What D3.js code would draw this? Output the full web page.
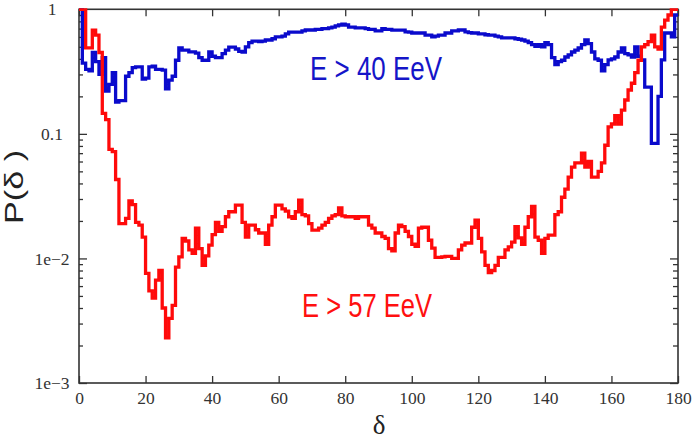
<!DOCTYPE html>
<html>
<head>
<meta charset="utf-8">
<script src="https://cdn.jsdelivr.net/npm/d3@7"></script>
<style>
  body { margin: 0; background: #fff; }
  svg { display: block; }
  .tick text, .serif { font-family: "Liberation Serif", "Times New Roman", "DejaVu Serif", serif; }
  .sans { font-family: "Liberation Sans", Arial, sans-serif; }
</style>
</head>
<body>
<svg id="drawing_region"></svg>
<script>
// bin starts (degrees), 1 degree bins
const delta = d3.range(0, 180, 1);

// P(delta) for E > 57 EeV (red)
const pHigh = [
  1.0, 1.0, 0.49, 0.49, 0.68, 0.62, 0.45, 0.146, 0.13, 0.075,
  0.072, 0.043, 0.019, 0.019, 0.021, 0.029, 0.027, 0.0195, 0.0185, 0.0148,
  0.0076, 0.0055, 0.0048, 0.0067, 0.008, 0.004, 0.0023, 0.0033, 0.0042, 0.0085,
  0.0103, 0.0145, 0.0138, 0.0117, 0.011, 0.0175, 0.012, 0.0088, 0.0105, 0.0128,
  0.0155, 0.0195, 0.0165, 0.018, 0.0216, 0.0237, 0.0237, 0.0268, 0.0268, 0.0195,
  0.0148, 0.0185, 0.0185, 0.017, 0.016, 0.016, 0.013, 0.0185, 0.0216, 0.0268,
  0.0268, 0.025, 0.024, 0.0216, 0.021, 0.0237, 0.0294, 0.0225, 0.022, 0.019,
  0.0169, 0.0169, 0.0175, 0.0185, 0.0195, 0.021, 0.022, 0.0225, 0.0255, 0.022,
  0.0216, 0.0216, 0.0216, 0.021, 0.0216, 0.0216, 0.0216, 0.0185, 0.0175, 0.016,
  0.016, 0.015, 0.0145, 0.012, 0.0115, 0.016, 0.0185, 0.018, 0.0165, 0.015,
  0.013, 0.0125, 0.0175, 0.0178, 0.0178, 0.014, 0.0121, 0.0102, 0.0102, 0.0103,
  0.0104, 0.0104, 0.0100, 0.0100, 0.0117, 0.0128, 0.0133, 0.0133, 0.0178, 0.0203,
  0.0145, 0.0113, 0.0088, 0.0077, 0.008, 0.0088, 0.0102, 0.0102, 0.0117, 0.0124,
  0.0135, 0.018, 0.0146, 0.013, 0.0178, 0.0216, 0.0262, 0.0148, 0.014, 0.011,
  0.0145, 0.0154, 0.0154, 0.0225, 0.0237, 0.031, 0.036, 0.045, 0.054, 0.0585,
  0.0585, 0.07, 0.054, 0.06, 0.045, 0.045, 0.05, 0.0585, 0.081, 0.114,
  0.12, 0.14, 0.12, 0.155, 0.187, 0.225, 0.255, 0.31, 0.39, 0.5,
  0.52, 0.55, 0.62, 0.5, 0.48, 0.72, 0.82, 0.9, 1.0, 1.0
];

// P(delta) for E > 40 EeV (blue)
const pLow = [
  1.0, 0.37, 0.33, 0.32, 0.45, 0.38, 0.30, 0.41, 0.22, 0.25,
  0.31, 0.18, 0.185, 0.185, 0.29, 0.31, 0.34, 0.345, 0.345, 0.275,
  0.28, 0.345, 0.35, 0.33, 0.33, 0.325, 0.23, 0.27, 0.29, 0.39,
  0.49, 0.47, 0.47, 0.455, 0.455, 0.445, 0.41, 0.39, 0.39, 0.455,
  0.42, 0.41, 0.41, 0.44, 0.47, 0.497, 0.497, 0.48, 0.46, 0.454,
  0.50, 0.54, 0.556, 0.556, 0.55, 0.556, 0.567, 0.567, 0.58, 0.60,
  0.60, 0.61, 0.635, 0.657, 0.657, 0.657, 0.657, 0.67, 0.682, 0.682,
  0.682, 0.69, 0.69, 0.70, 0.70, 0.71, 0.72, 0.735, 0.748, 0.76,
  0.748, 0.72, 0.72, 0.71, 0.71, 0.71, 0.70, 0.69, 0.69, 0.67,
  0.67, 0.70, 0.69, 0.69, 0.68, 0.68, 0.68, 0.68, 0.66, 0.657,
  0.645, 0.645, 0.645, 0.645, 0.62, 0.62, 0.60, 0.61, 0.62, 0.62,
  0.645, 0.645, 0.67, 0.67, 0.682, 0.682, 0.66, 0.65, 0.645, 0.645,
  0.635, 0.635, 0.625, 0.62, 0.62, 0.61, 0.60, 0.59, 0.59, 0.59,
  0.59, 0.58, 0.575, 0.567, 0.555, 0.54, 0.52, 0.505, 0.52, 0.50,
  0.54, 0.52, 0.41, 0.36, 0.38, 0.39, 0.414, 0.43, 0.454, 0.47,
  0.489, 0.52, 0.567, 0.53, 0.454, 0.40, 0.39, 0.32, 0.36, 0.392,
  0.40, 0.414, 0.454, 0.49, 0.44, 0.43, 0.414, 0.50, 0.42, 0.392,
  0.237, 0.237, 0.084, 0.084, 0.2, 0.392, 0.645, 0.645, 0.60, 0.9
];

const xTicks = [0, 20, 40, 60, 80, 100, 120, 140, 160, 180];
const yMajor = [1, 0.1, 0.01, 0.001];
const yMajorLabels = ["1", "0.1", "1e\u22122", "1e\u22123"];

let config = {
  parent: '#drawing_region',
  width: 698,
  height: 442,
  margin: {top: 9.3, right: 20, bottom: 59, left: 79},
};

class LogStepChart {

  constructor( config ) {
    this.config = config;
    this.init();
  }

  init() {
    let self = this;

    self.svg = d3.select( self.config.parent )
      .attr('width', self.config.width)
      .attr('height', self.config.height);

    self.chart = self.svg.append('g')
      .attr('transform', `translate(${self.config.margin.left}, ${self.config.margin.top})`);

    self.inner_width = self.config.width - self.config.margin.left - self.config.margin.right;
    self.inner_height = self.config.height - self.config.margin.top - self.config.margin.bottom;

    self.x_scale = d3.scaleLinear()
      .domain([0, 180])
      .range([0, self.inner_width]);

    self.y_scale = d3.scaleLog()
      .domain([0.001, 1])
      .range([self.inner_height, 0]);
  }

  render() {
    let self = this;
    const W = self.inner_width, H = self.inner_height;
    const axisColor = '#333';

    // minor ticks 2..9 per decade
    const yMinor = [];
    [0.001, 0.01, 0.1].forEach(b => { for (let k = 2; k <= 9; k++) yMinor.push(b * k); });

    const styleAxis = g => {
      g.attr('font-size', 17.5);
      g.select('.domain').remove();
      g.selectAll('line').attr('stroke', axisColor).attr('stroke-width', 1.3);
      g.selectAll('text').attr('fill', '#333');
    };

    // bottom
    self.chart.append('g')
      .attr('transform', `translate(0, ${H})`)
      .call(d3.axisBottom(self.x_scale).tickValues(xTicks).tickSizeInner(-7).tickSizeOuter(0).tickPadding(9).tickFormat(d3.format('d')))
      .call(styleAxis);

    // top
    self.chart.append('g')
      .call(d3.axisTop(self.x_scale).tickValues(xTicks).tickSizeInner(-7).tickSizeOuter(0).tickFormat(''))
      .call(styleAxis);

    // left major + minor
    self.chart.append('g')
      .call(d3.axisLeft(self.y_scale).tickValues(yMajor).tickSizeInner(-8).tickSizeOuter(0).tickPadding(27)
        .tickFormat((d, i) => yMajorLabels[i]))
      .call(styleAxis)
      .call(g => g.selectAll('text').attr('text-anchor', 'middle'));

    self.chart.append('g')
      .call(d3.axisLeft(self.y_scale).tickValues(yMinor).tickSizeInner(-4).tickSizeOuter(0).tickFormat(''))
      .call(styleAxis);

    // right major + minor
    self.chart.append('g')
      .attr('transform', `translate(${W}, 0)`)
      .call(d3.axisRight(self.y_scale).tickValues(yMajor).tickSizeInner(-8).tickSizeOuter(0).tickFormat(''))
      .call(styleAxis);

    self.chart.append('g')
      .attr('transform', `translate(${W}, 0)`)
      .call(d3.axisRight(self.y_scale).tickValues(yMinor).tickSizeInner(-5).tickSizeOuter(0).tickFormat(''))
      .call(styleAxis);

    // frame
    self.chart.append('rect')
      .attr('x', 0).attr('y', 0)
      .attr('width', W).attr('height', H)
      .attr('fill', 'none')
      .attr('stroke', axisColor)
      .attr('stroke-width', 1.6);

    // step curves
    const line = d3.line()
      .x(d => self.x_scale(d[0]))
      .y(d => self.y_scale(d[1]))
      .curve(d3.curveStepAfter);

    const series = [
      {values: pLow, color: '#0a0acc'},
      {values: pHigh, color: '#ff0a0a'},
    ];

    self.chart.append('clipPath').attr('id', 'plotclip')
      .append('rect').attr('x', 0).attr('y', -1).attr('width', W + 1).attr('height', H + 2);

    series.forEach(s => {
      const pts = delta.map((d, i) => [d, s.values[i]]);
      pts.push([180, s.values[s.values.length - 1]]);
      self.chart.append('path')
        .datum(pts)
        .attr('clip-path', 'url(#plotclip)')
        .attr('fill', 'none')
        .attr('stroke', s.color)
        .attr('stroke-width', 3.3)
        .attr('stroke-linejoin', 'miter')
        .attr('d', line);
    });

    // series labels
    self.svg.append('text')
      .attr('class', 'sans')
      .attr('x', 310).attr('y', 80)
      .attr('fill', '#1515c8')
      .attr('textLength', 132).attr('lengthAdjust', 'spacingAndGlyphs')
      .style('font-size', '34px')
      .text('E > 40 EeV');

    self.svg.append('text')
      .attr('class', 'sans')
      .attr('x', 302).attr('y', 317)
      .attr('fill', '#ff1010')
      .attr('textLength', 130).attr('lengthAdjust', 'spacingAndGlyphs')
      .style('font-size', '33px')
      .text('E > 57 EeV');

    // axis titles
    self.svg.append('text')
      .attr('class', 'sans')
      .attr('transform', 'translate(23, 187) rotate(-90)')
      .attr('text-anchor', 'middle')
      .attr('fill', '#222')
      .attr('textLength', 74).attr('lengthAdjust', 'spacingAndGlyphs')
      .style('font-size', '25px')
      .text('P(\u03b4 )');

    self.svg.append('text')
      .attr('class', 'serif')
      .attr('x', 379).attr('y', 434)
      .attr('text-anchor', 'middle')
      .attr('fill', '#222')
      .style('font-size', '27px')
      .text('\u03b4');
  }
}

const chart = new LogStepChart( config );
chart.render();
</script>
</body>
</html>
